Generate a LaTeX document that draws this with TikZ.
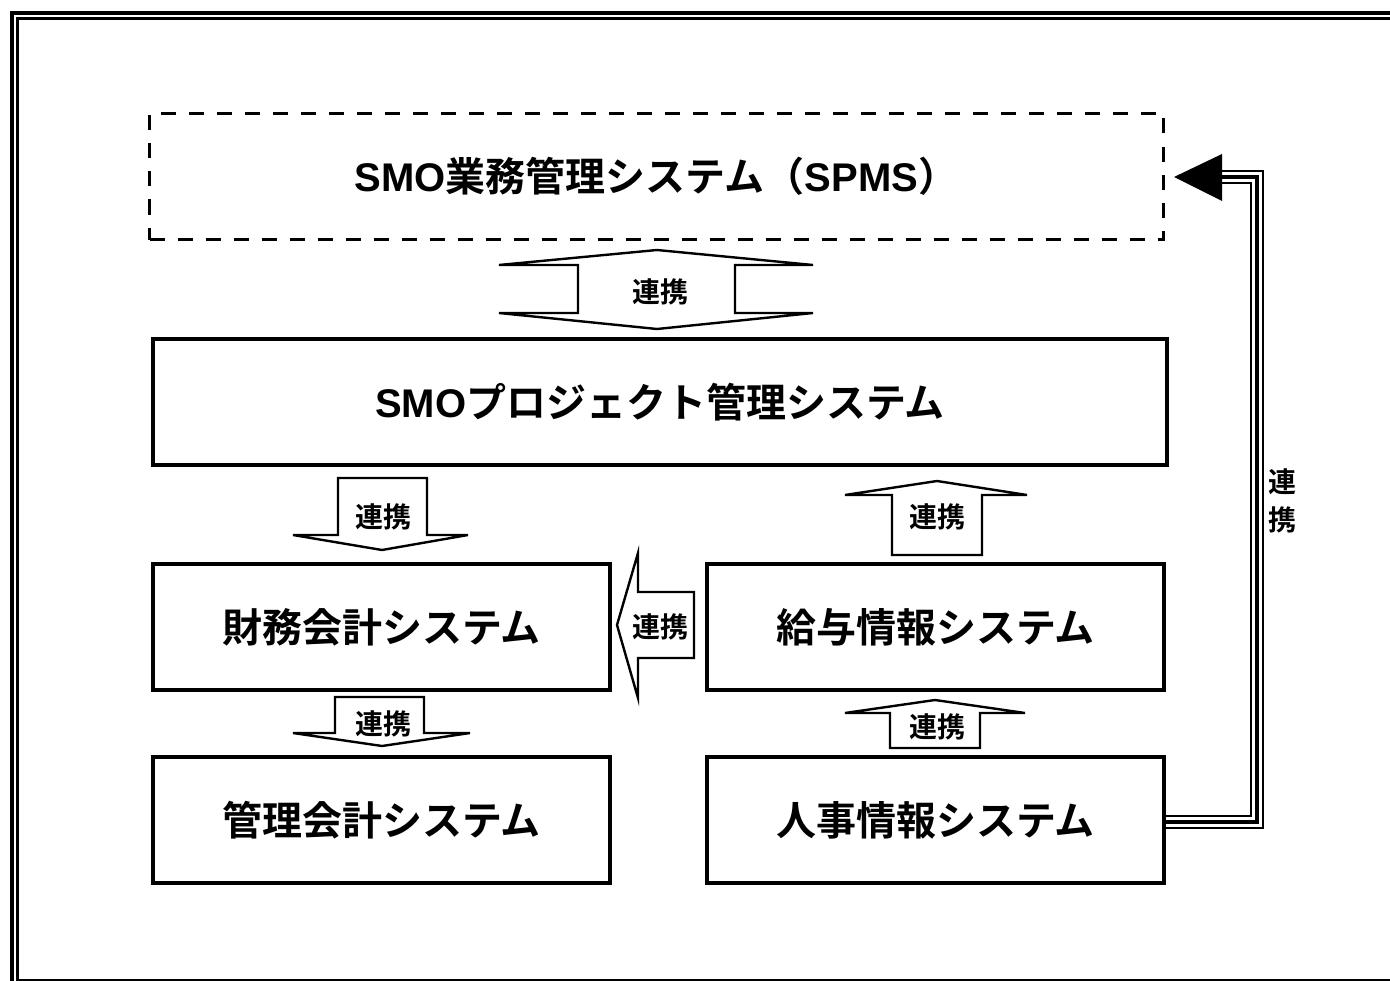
\documentclass[tikz,border=0pt]{standalone}
\usepackage{fontspec}
\setmainfont{Noto Sans CJK JP}[BoldFont={Noto Sans CJK JP Bold}]
\newfontfamily\lat{Liberation Sans}
\begin{document}
\begin{tikzpicture}[x=0.75pt,y=-0.75pt,
  box/.style={draw,line width=3pt,minimum width=342.75pt,minimum height=94.5pt,inner sep=0pt,font=\bfseries\fontsize{30pt}{30pt}\selectfont},
  wide/.style={box,minimum width=760.5pt},
  blk/.style={draw,line width=1.8pt,fill=white,line join=miter},
  lbl/.style={inner sep=0pt,font=\bfseries\fontsize{21pt}{21pt}\selectfont},
  ]
\useasboundingbox (0,0) rectangle (1390,981);
\clip (0,0) rectangle (1390,981);
% outer frame
\draw[line width=3pt] (11.5,13.5) rectangle (1410,1000);
\draw[line width=2pt] (17.5,18.5) rectangle (1400,980);
% boxes
\node[wide,dashed,line width=2.6pt,dash pattern=on 11.25pt off 9.75pt] (spms) at (656.5,176.5) {{\lat\bfseries SMO}業務管理システム（{\lat\bfseries SPMS}）};
\node[wide] (pm) at (660,402) {{\lat\bfseries SMO}プロジェクト管理システム};
\node[box] (fa) at (381.5,627) {財務会計システム};
\node[box] (pay) at (935.5,627) {給与情報システム};
\node[box] (ma) at (381.5,820) {管理会計システム};
\node[box] (hr) at (935.5,820) {人事情報システム};
% double arrow SPMS <-> PM
\draw[blk] (499,265) -- (657,250) -- (813,265) -- (735,265) -- (735,313) -- (813,313) -- (657,329) -- (499,313) -- (578,313) -- (578,265) -- cycle;
\node[lbl] (l1) at (660,292) {連携};
% PM -> FA
\draw[blk] (338,478) -- (427,478) -- (427,535) -- (468,535) -- (382,550) -- (293,535) -- (338,535) -- cycle;
\node[lbl] (l2) at (383,517) {連携};
% PAY -> PM
\draw[blk] (892,555) -- (892,495) -- (845,495) -- (937,481) -- (1027,495) -- (982,495) -- (982,555) -- cycle;
\node[lbl] (l3) at (937,517) {連携};
% PAY -> FA
\draw[blk] (694,592) -- (638,592) -- (638,553) -- (617,625) -- (638,698) -- (638,658) -- (694,658) -- cycle;
\node[lbl] (l4) at (660,627) {連携};
% FA -> MA
\draw[blk] (335,697) -- (424,697) -- (424,733) -- (470,733) -- (382,746) -- (293,733) -- (335,733) -- cycle;
\node[lbl] (l5) at (383,724) {連携};
% HR -> PAY
\draw[blk] (890,748) -- (890,713) -- (845,713) -- (935,700) -- (1025,713) -- (980,713) -- (980,748) -- cycle;
\node[lbl] (l6) at (937,727) {連携};
% HR -> SPMS triple line
\coordinate (tr) at (1257,822);
\coordinate (tt) at (1257,177);
\coordinate (ab) at (1222,177);
\foreach \w/\c in {11pt/black,8pt/white,3.5pt/black}
  \draw[line width=\w,\c,line join=miter] (hr.east |- tr) -- (tr) -- (tt) -- (ab);
\fill (1174,177) -- (1222,154) -- (1222,201) -- cycle;
\node[lbl,align=center,font=\bfseries\fontsize{21pt}{28pt}\selectfont] (l7) at (1282,501) {連\\携};
\end{tikzpicture}
\end{document}
